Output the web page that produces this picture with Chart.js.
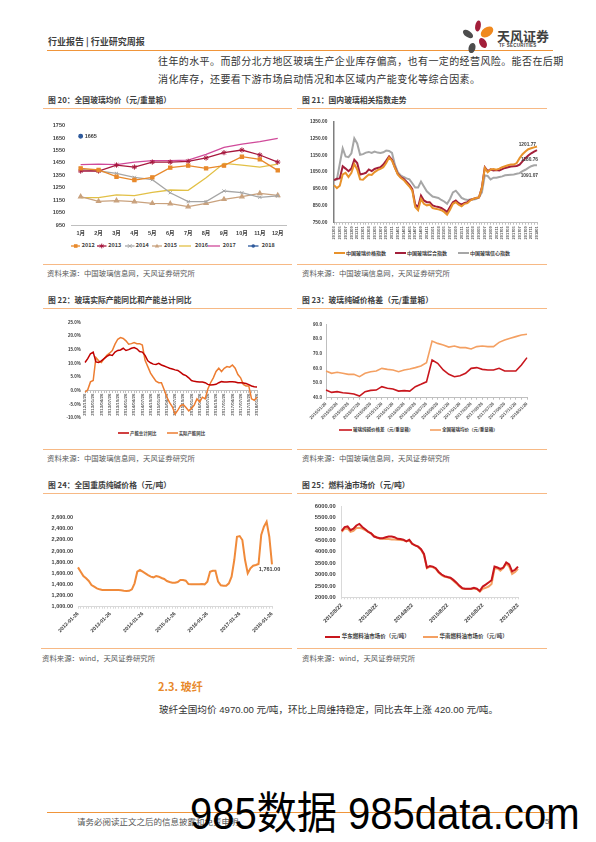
<!DOCTYPE html>
<html>
<head>
<meta charset="utf-8">
<title>行业研究周报</title>
<script src="https://cdn.jsdelivr.net/npm/chart.js@4.4.1/dist/chart.umd.min.js"></script>
<style>
html,body{margin:0;padding:0;background:#fff;}
#page{position:relative;width:596px;height:842px;overflow:hidden;font-family:"Noto Sans CJK SC",sans-serif;color:#333;}
.t{position:absolute;white-space:nowrap;line-height:1;}
.rule{position:absolute;height:1px;background:#F7B985;}
.ttl{font-size:7.8px;font-weight:bold;color:#404040;}
.src{font-size:7.4px;color:#595959;}
canvas{position:absolute;}
</style>
</head>
<body>
<div id="page">
  <div class="t" style="left:48px;top:37px;font-size:9px;font-weight:bold;color:#3f3f3f;">行业报告&nbsp;|&nbsp;行业研究周报</div>
  <div style="position:absolute;left:47px;top:49.5px;width:506px;height:1.5px;background:#F0953A;"></div>
  <svg style="position:absolute;left:460px;top:20px;" width="36" height="34">
    <ellipse cx="18" cy="6" rx="2.8" ry="5.5" fill="#A31F3A" transform="rotate(10 18 6)"/>
    <ellipse cx="27" cy="12" rx="4.5" ry="7" fill="#F0891E" transform="rotate(55 27 12)"/>
    <ellipse cx="8" cy="14" rx="3.2" ry="5.8" fill="#4d4d4d" transform="rotate(-55 8 14)"/>
    <ellipse cx="23" cy="23" rx="3.4" ry="5.4" fill="#A31F3A" transform="rotate(-30 23 23)"/>
    <ellipse cx="12" cy="28" rx="3.4" ry="5.2" fill="#4d4d4d" transform="rotate(15 12 28)"/>
  </svg>
  <div class="t" style="left:497px;top:28.8px;font-size:13px;font-weight:bold;color:#404040;">天风证券</div>
  <div class="t" style="left:499px;top:44.3px;font-size:4.5px;font-weight:bold;color:#404040;font-family:'Liberation Sans',sans-serif;letter-spacing:0.3px;">TF SECURITIES</div>

  <div class="t" style="left:158px;top:56.4px;font-size:10px;letter-spacing:0.4px;color:#333;">往年的水平。而部分北方地区玻璃生产企业库存偏高，也有一定的经营风险。能否在后期</div>
  <div class="t" style="left:158px;top:74.4px;font-size:10px;letter-spacing:0.4px;color:#333;">消化库存，还要看下游市场启动情况和本区域内产能变化等综合因素。</div>

  <div class="t ttl" style="left:48px;top:95.7px;">图 20：全国玻璃均价（元/重量箱）</div>
  <div class="t ttl" style="left:302px;top:95.7px;">图 21：国内玻璃相关指数走势</div>
  <div class="rule" style="left:43px;top:108px;width:249px;"></div>
  <div class="rule" style="left:297px;top:108px;width:250px;"></div>
  <div class="rule" style="left:43px;top:264px;width:249px;"></div>
  <div class="rule" style="left:297px;top:264px;width:250px;"></div>
  <div class="t src" style="left:47px;top:268.6px;">资料来源：中国玻璃信息网，天风证券研究所</div>
  <div class="t src" style="left:302px;top:268.6px;">资料来源：中国玻璃信息网，天风证券研究所</div>

  <div class="t ttl" style="left:48px;top:295.7px;">图 22：玻璃实际产能同比和产能总计同比</div>
  <div class="t ttl" style="left:302px;top:295.7px;">图 23：玻璃纯碱价格差（元/重量箱）</div>
  <div class="rule" style="left:43px;top:308px;width:249px;"></div>
  <div class="rule" style="left:297px;top:308px;width:250px;"></div>
  <div class="rule" style="left:43px;top:449px;width:249px;"></div>
  <div class="rule" style="left:297px;top:449px;width:250px;"></div>
  <div class="t src" style="left:47px;top:453.6px;">资料来源：中国玻璃信息网，天风证券研究所</div>
  <div class="t src" style="left:302px;top:453.6px;">资料来源：中国玻璃信息网，天风证券研究所</div>

  <div class="t ttl" style="left:48px;top:480.7px;">图 24：全国重质纯碱价格（元/吨）</div>
  <div class="t ttl" style="left:302px;top:480.7px;">图 25：燃料油市场价（元/吨）</div>
  <div class="rule" style="left:43px;top:493px;width:249px;"></div>
  <div class="rule" style="left:297px;top:493px;width:250px;"></div>
  <div class="rule" style="left:41px;top:648px;width:251px;"></div>
  <div class="rule" style="left:297px;top:648px;width:250px;"></div>
  <div class="t src" style="left:42px;top:653.9px;">资料来源：wind，天风证券研究所</div>
  <div class="t src" style="left:302px;top:653.9px;">资料来源：wind，天风证券研究所</div>

  <div class="t" style="left:158px;top:680.6px;font-size:11px;font-weight:bold;color:#E8892B;">2.3. 玻纤</div>
  <div class="t" style="left:159px;top:704.7px;font-size:9.6px;color:#333;font-family:'Liberation Sans','Noto Sans CJK SC',sans-serif;">玻纤全国均价 4970.00 元/吨，环比上周维持稳定，同比去年上涨 420.00 元/吨。</div>

  <div style="position:absolute;left:47px;top:812px;width:506px;height:1.2px;background:#F0953A;"></div>
  <div class="t" style="left:77px;top:817.3px;font-size:8.5px;color:#555;">请务必阅读正文之后的信息披露和免责申明</div>
  <div class="t" style="left:545px;top:817.5px;font-size:8px;color:#555;font-family:'Liberation Sans',sans-serif;">5</div>

  <canvas id="c20" width="249" height="125" style="left:43px;top:112px;"></canvas>
  <canvas id="c21" width="256" height="135" style="left:297px;top:112px;"></canvas>
  <canvas id="c22" width="249" height="113" style="left:43px;top:312px;"></canvas>
  <canvas id="c23" width="256" height="112" style="left:297px;top:312px;"></canvas>
  <canvas id="c24" width="249" height="140" style="left:43px;top:497px;"></canvas>
  <canvas id="c25" width="256" height="131" style="left:297px;top:497px;"></canvas>

  <div class="t" style="left:190px;top:791.8px;font-size:44px;color:#000;font-family:'Liberation Sans','Noto Sans CJK SC',sans-serif;transform:scaleX(0.91);transform-origin:left top;">985数据 985data.com</div>
</div>

<script>
// ---- data: 图20 全国玻璃均价
var months20 = ['1月','2月','3月','4月','5月','6月','7月','8月','9月','10月','11月','12月'];
var p2012 = [1406,1393,1339,1312,1334,1412,1428,1406,1428,1500,1479,1390];
var p2013 = [1385,1385,1433,1417,1457,1457,1463,1490,1533,1554,1514,1457];
var p2014 = [1398,1385,1366,1334,1315,1210,1138,1138,1224,1210,1173,1184];
var p2015 = [1178,1141,1146,1138,1125,1122,1098,1125,1157,1178,1205,1189];
var p2016 = [1170,1170,1192,1186,1213,1232,1229,1331,1447,1433,1417,1441];
var p2017 = [1436,1441,1436,1457,1468,1468,1473,1519,1575,1602,1621,1648];
var p2018 = [1665,null,null,null,null,null,null,null,null,null,null,null];
var yTicks20 = [950,1050,1150,1250,1350,1450,1550,1650,1750];

// ---- 图21 国内玻璃相关指数 (monthly 2012/03 - 2018/01)
var price21 = [973,955,969,1036,1046,1021,1046,1098,1066,1007,
  1005,1021,1036,1033,1050,1062,1069,1079,1104,1137,
  1118,1075,1036,1017,1004,984,965,940,843,824,
  891,862,853,857,837,833,829,824,814,798,
  827,862,872,857,847,862,866,882,891,897,
  900,955,1075,1050,1066,1069,1064,1071,1079,1085,
  1091,1095,1095,1104,1133,1156,1172,1186,1192,1197,1201.77];
var comp21 = [1002,1011,1013,1085,1071,1056,1071,1124,1104,1036,
  1040,1046,1066,1056,1069,1075,1079,1095,1118,1143,
  1124,1079,1040,1021,1011,994,975,949,858,843,
  911,882,872,872,853,847,843,837,827,814,
  843,872,882,866,857,868,872,886,891,897,
  900,960,1079,1056,1066,1060,1062,1060,1068,1075,
  1079,1083,1085,1087,1095,1114,1133,1149,1162,1172,1180.76];
var conf21 = [1002,1007,1100,1191,1143,1139,1162,1250,1220,1153,
  1157,1166,1170,1164,1172,1166,1164,1168,1178,1176,
  1164,1094,1050,1031,1021,1013,1007,984,959,959,
  994,965,936,920,905,901,897,885,876,862,
  891,930,940,920,897,889,885,887,887,891,
  901,930,1031,1027,1007,1017,1017,1021,1025,1031,
  1033,1035,1036,1040,1044,1056,1064,1075,1085,1091,1091.07];

// ---- 图22 产能同比 (%), monthly 2012/10 - 2018/01
var total22 = [10.3,11.7,13.5,14.1,10.5,10.3,10.9,11.7,12.5,13.1,
  12.9,14.1,14.7,14.9,15.5,14.7,15.0,15.5,15.8,15.3,
  14.3,14.1,12.9,10.9,10.2,9.7,9.6,10.0,9.4,9.0,
  8.6,8.2,7.9,7.6,7.4,6.7,5.9,5.5,4.7,3.7,
  3.4,3.3,3.2,3.2,2.9,2.3,2.1,2.2,2.3,2.9,
  3.3,3.2,3.2,3.3,3.3,3.2,2.9,2.9,2.8,2.6,
  2.2,1.7,1.4,1.3];
var actual22 = [-0.6,0.3,3.2,3.7,12.1,10.9,10.3,11.7,12.9,13.7,
  14.7,17.0,18.8,19.4,19.1,18.2,17.0,17.2,17.6,17.2,
  17.2,16.7,11.1,8.8,6.4,4.9,3.5,2.9,2.9,0.3,
  -2.4,-4.4,-5.9,-8.6,-7.1,-5.5,-5.1,-6.2,-7.4,-6.5,
  -5.3,-3.0,-4.1,-2.4,-3.0,0.6,2.9,4.7,7.0,8.2,
  7.0,8.2,8.8,8.6,9.4,8.2,5.9,4.7,2.3,1.7,
  1.7,-3.0,-3.5,-2.4];

// ---- 图23 玻璃纯碱价格差 (元/重量箱), monthly 2015/01 - 2018/01
var spread23 = [45.2,43.6,44.1,43.4,43.0,42.5,41.1,44.1,45.0,45.2,
  47.5,46.4,45.9,44.5,44.8,44.5,47.5,49.1,50.8,65.7,
  63.4,58.9,55.9,54.3,55.0,56.6,60.0,60.5,59.3,58.9,
  58.9,60.0,58.2,58.2,58.2,62.3,67.3];
var glass23 = [58.2,56.6,57.3,56.6,55.9,55.9,54.3,56.6,57.7,58.2,
  60.0,59.3,58.9,57.7,58.9,59.5,60.5,61.6,63.9,78.6,
  77.0,75.9,74.5,75.2,74.1,74.1,73.2,74.8,75.2,74.8,
  74.8,77.7,79.3,80.5,81.6,82.7,83.2];

// ---- 图24 重质纯碱 (元/吨), monthly 2012-01 - 2018-01
var soda24 = [1707,1629,1551,1510,1462,1390,1360,1330,1312,1300,
  1300,1300,1300,1300,1300,1298,1295,1285,1282,1285,
  1312,1420,1629,1659,1629,1600,1569,1540,1528,1551,
  1540,1516,1498,1462,1444,1432,1432,1444,1480,1480,
  1468,1408,1402,1402,1402,1402,1408,1402,1450,1629,
  1647,1647,1450,1384,1378,1378,1420,1540,1839,2258,
  2270,2199,1839,1600,1689,1737,1749,1767,2288,2438,
  2528,2258,1761];

// ---- 图25 燃料油 (元/吨), monthly 2012/8 - 2017/8
var east25 = [4927,5094,5122,4955,5024,5164,5233,5094,4997,4885,
  4815,4676,4634,4606,4606,4648,4676,4676,4648,4578,
  4564,4537,4467,4537,4355,4286,4230,4118,3909,3310,
  3380,3352,3282,3115,3003,2934,2892,2864,2767,2655,
  2516,2404,2376,2376,2376,2418,2376,2279,2474,2557,
  2655,2753,3352,3310,3254,3310,3533,3450,3143,3213,
  3352];
var south25 = [4885,5024,5024,4885,4927,5052,5066,5024,4955,4885,
  4815,4704,4634,4578,4578,4564,4564,4550,4550,4537,
  4523,4509,4467,4495,4355,4286,4230,4091,3868,3282,
  3352,3324,3254,3087,2976,2906,2878,2836,2725,2613,
  2488,2390,2362,2362,2362,2390,2362,2251,2376,2418,
  2474,2585,3254,3282,3171,3282,3491,3352,3031,3115,
  3254];

// category labels
function pad2(n){ return (n<10?'0':'')+n; }
function monthSeq(y, m, n, fmt){
  var out = [];
  for (var k=0;k<n;k++){
    var mm = m+k-1;
    out.push(fmt(y+Math.floor(mm/12), mm%12+1));
  }
  return out;
}
var dates21 = monthSeq(2012,3,price21.length,function(y,m){return y+pad2(m);});
var dates22 = monthSeq(2012,10,total22.length,function(y,m){return y+'/'+pad2(m)+'/26';});
var dates23 = monthSeq(2015,1,glass23.length,function(y,m){return y+'/'+pad2(m)+'/26';});
var dates24 = monthSeq(2012,1,soda24.length,function(y,m){return y+'-'+pad2(m)+'-26';});
var dates25 = monthSeq(2012,8,east25.length,function(y,m){return y+'/'+m+'/22';});

var FONT = '"Liberation Sans","Noto Sans CJK SC",sans-serif';
var TXT = '#404040';
Chart.defaults.font.family = FONT;

function f(size){ return {family:FONT, size:size, weight:'bold'}; }
function every(n){ return function(v,i){ return i%n===0 ? this.getLabelForValue(v) : ''; }; }
function fixW(w){ return function(s){ s.width = w; }; }
function fixH(h){ return function(s){ s.height = h; }; }

// value labels next to chosen points
function pointLabels(items){
  return {
    id:'pointLabels',
    afterDatasetsDraw: function(chart){
      var ctx = chart.ctx;
      items.forEach(function(it){
        var el = chart.getDatasetMeta(it.ds).data[it.i];
        var v = chart.data.datasets[it.ds].data[it.i];
        ctx.save();
        ctx.font = 'bold '+it.size+'px '+FONT;
        ctx.fillStyle = TXT;
        ctx.textAlign = it.align;
        ctx.textBaseline = 'middle';
        ctx.fillText(it.fmt(v), el.x+it.dx, el.y+it.dy);
        ctx.restore();
      });
    }
  };
}
function two(v){ return v.toFixed(2); }
function comma2(v){ return v.toLocaleString('en-US',{minimumFractionDigits:2,maximumFractionDigits:2}); }

function base(pad){
  return {
    responsive:false, animation:false,
    layout:{padding:pad},
    plugins:{legend:{display:false}, tooltip:{enabled:false}},
    elements:{line:{tension:0}, point:{radius:0}}
  };
}
function ln(data, color, w, extra){
  var d = {data:data, borderColor:color, backgroundColor:color, borderWidth:w, pointRadius:0, fill:false};
  for (var k in extra) d[k] = extra[k];
  return d;
}

// ---- chart 20
var o20 = base({top:13.7, right:5.3, bottom:0, left:0});
o20.scales = {
  x:{offset:true, grid:{display:false, drawTicks:false}, border:{color:'#BFBFBF'},
     ticks:{font:f(5.5), color:TXT, padding:5, maxRotation:0, autoSkip:false}, afterFit:fixH(12)},
  y:{min:950, max:1750, afterBuildTicks:function(s){ s.ticks = yTicks20.map(function(v){return {value:v};}); },
     grid:{display:false, drawTicks:false}, border:{display:false},
     ticks:{font:f(5.5), color:TXT, padding:6.7, callback:function(v){return String(v);}}, afterFit:fixW(28.7)}
};
new Chart(document.getElementById('c20'), {
  type:'line',
  data:{labels:months20, datasets:[
    ln(p2012,'#E8892B',1.3,{pointStyle:'rect', pointRadius:2.2}),
    ln(p2013,'#A6173D',1.3,{pointStyle:'star', pointRadius:2.6, pointBorderWidth:1}),
    ln(p2014,'#A6A6A6',1.3,{pointStyle:'crossRot', pointRadius:2.2, pointBorderWidth:1}),
    ln(p2015,'#C9A27E',1.3,{pointStyle:'triangle', pointRadius:2.3}),
    ln(p2016,'#E2C046',1.3),
    ln(p2017,'#D04A9A',1.3),
    ln(p2018,'#2E5A9C',1.3,{pointStyle:'circle', pointRadius:1.8})
  ]},
  options:o20,
  plugins:[pointLabels([{ds:6, i:0, dx:4, dy:0, align:'left', size:5.5, fmt:function(v){return String(v);}}])]
});

// ---- chart 21
var o21 = base({top:7.3, right:16, bottom:0, left:0});
o21.scales = {
  x:{grid:{display:true, drawOnChartArea:false, drawTicks:true, tickLength:2, color:'#BFBFBF'}, border:{color:'#BFBFBF'},
     ticks:{font:f(4), color:'#595959', padding:1.5, minRotation:90, maxRotation:90, autoSkip:false, callback:every(2)},
     afterFit:fixH(24.3)},
  y:{min:750, max:1350, grid:{display:false, drawTicks:false}, border:{color:'#7F7F7F', width:1.5},
     ticks:{stepSize:100, font:f(4.8), color:TXT, padding:6.7, callback:function(v){return v.toFixed(2);}},
     afterFit:fixW(37)}
};
new Chart(document.getElementById('c21'), {
  type:'line',
  data:{labels:dates21, datasets:[
    ln(price21,'#E8922B',2),
    ln(comp21,'#A31F3A',2),
    ln(conf21,'#A6A6A6',2)
  ]},
  options:o21,
  plugins:[pointLabels([
    {ds:0, i:price21.length-1, dx:-1, dy:-2, align:'right', size:4.8, fmt:two},
    {ds:1, i:comp21.length-1, dx:1, dy:10, align:'right', size:4.8, fmt:two},
    {ds:2, i:conf21.length-1, dx:1, dy:10, align:'right', size:4.8, fmt:two}
  ])]
});

// ---- chart 22
var o22 = base({top:10.3, right:35, bottom:3.3, left:0});
o22.scales = {
  x:{position:{y:0}, grid:{display:true, drawOnChartArea:false, drawTicks:true, tickLength:2, color:'#BFBFBF'}, border:{color:'#BFBFBF'},
     ticks:{font:f(4.4), color:'#595959', padding:1, minRotation:90, maxRotation:90, autoSkip:false, callback:every(3)}},
  y:{min:-10, max:25, grid:{display:false, drawTicks:false}, border:{display:false},
     ticks:{stepSize:5, font:f(4.5), color:TXT, padding:4.3, callback:function(v){return v.toFixed(1)+'%';}},
     afterFit:fixW(42)}
};
new Chart(document.getElementById('c22'), {
  type:'line',
  data:{labels:dates22, datasets:[
    ln(total22,'#C00000',1.5),
    ln(actual22,'#ED7D31',1.5)
  ]},
  options:o22
});

// ---- chart 23
var o23 = base({top:12.3, right:26, bottom:0, left:0});
o23.scales = {
  x:{grid:{display:true, drawOnChartArea:false, drawTicks:true, tickLength:2, color:'#BFBFBF'}, border:{color:'#BFBFBF'},
     ticks:{font:f(4.4), color:'#595959', padding:1.5, minRotation:45, maxRotation:45, autoSkip:false, callback:every(2)},
     afterFit:fixH(26.3)},
  y:{min:40, max:90, grid:{display:false, drawTicks:false}, border:{color:'#BFBFBF'},
     ticks:{stepSize:5, font:f(4.6), color:TXT, padding:4, callback:function(v){return v.toFixed(1);}},
     afterFit:fixW(29)}
};
new Chart(document.getElementById('c23'), {
  type:'line',
  data:{labels:dates23, datasets:[
    ln(spread23,'#C8161D',1.6),
    ln(glass23,'#F4A062',1.6)
  ]},
  options:o23
});

// ---- chart 24
var o24 = base({top:20.7, right:20, bottom:0, left:0});
o24.scales = {
  x:{grid:{display:true, drawOnChartArea:false, drawTicks:true, tickLength:2, color:'#D9D9D9'}, border:{color:'#D9D9D9'},
     ticks:{font:f(5.2), color:TXT, padding:2, minRotation:45, maxRotation:45, autoSkip:false, callback:every(12)},
     afterFit:fixH(30.3)},
  y:{min:1000, max:2600, grid:{display:false, drawTicks:false}, border:{display:false},
     ticks:{stepSize:200, font:f(5.5), color:TXT, padding:5, callback:comma2},
     afterFit:fixW(35)}
};
new Chart(document.getElementById('c24'), {
  type:'line',
  data:{labels:dates24, datasets:[ ln(soda24,'#F08A3A',2) ]},
  options:o24,
  plugins:[pointLabels([{ds:0, i:soda24.length-1, dx:-2.5, dy:5, align:'center', size:5.5, fmt:comma2}])]
});

// ---- chart 25
var o25 = base({top:4.7, right:35, bottom:0, left:0});
o25.scales = {
  x:{grid:{display:true, drawOnChartArea:false, drawTicks:true, tickLength:2, color:'#D9D9D9'}, border:{color:'#D9D9D9'},
     ticks:{font:f(5.5), color:TXT, padding:3, minRotation:45, maxRotation:45, autoSkip:false, callback:every(12)},
     afterFit:fixH(30.7)},
  y:{min:2000, max:6000, grid:{display:false, drawTicks:false}, border:{color:'#D9D9D9'},
     ticks:{stepSize:500, font:f(5.8), color:TXT, padding:6, callback:function(v){return v.toFixed(2);}},
     afterFit:fixW(44.7)}
};
new Chart(document.getElementById('c25'), {
  type:'line',
  data:{labels:dates25, datasets:[
    ln(east25,'#C8161D',2),
    ln(south25,'#F4A062',2)
  ]},
  options:o25
});

// ---- legends (html)
var page = document.getElementById('page');
function marker(kind, c, cx, cy){
  if (kind==='rect') return '<rect x="'+(cx-1.8)+'" y="'+(cy-1.8)+'" width="3.6" height="3.6" fill="'+c+'"/>';
  if (kind==='circle') return '<circle cx="'+cx+'" cy="'+cy+'" r="1.8" fill="'+c+'"/>';
  if (kind==='tri') return '<polygon points="'+cx+','+(cy-2.2)+' '+(cx+2.2)+','+(cy+1.6)+' '+(cx-2.2)+','+(cy+1.6)+'" fill="'+c+'"/>';
  if (kind==='x') return '<path d="M'+(cx-1.8)+' '+(cy-1.8)+'L'+(cx+1.8)+' '+(cy+1.8)+'M'+(cx+1.8)+' '+(cy-1.8)+'L'+(cx-1.8)+' '+(cy+1.8)+'" stroke="'+c+'" stroke-width="1"/>';
  if (kind==='star') return '<path d="M'+cx+' '+(cy-2.4)+'V'+(cy+2.4)+'M'+(cx-2.1)+' '+(cy-1.2)+'L'+(cx+2.1)+' '+(cy+1.2)+'M'+(cx+2.1)+' '+(cy-1.2)+'L'+(cx-2.1)+' '+(cy+1.2)+'" stroke="'+c+'" stroke-width="1"/>';
  return '';
}
function legendItem(it){
  var s = document.createElementNS('http://www.w3.org/2000/svg','svg');
  s.setAttribute('width', it.lw); s.setAttribute('height', 8);
  s.style.position = 'absolute'; s.style.left = it.lx+'px'; s.style.top = (it.cy-4)+'px';
  s.innerHTML = '<line x1="0" y1="4" x2="'+it.lw+'" y2="4" stroke="'+it.c+'" stroke-width="'+it.w+'"/>' + marker(it.m, it.c, it.lw/2, 4);
  page.appendChild(s);
  var d = document.createElement('div');
  d.className = 't';
  d.style.left = it.tx+'px';
  d.style.top = (it.cy - it.size*0.556)+'px';
  d.style.fontSize = it.size+'px';
  d.style.fontWeight = 'bold';
  d.style.color = TXT;
  d.textContent = it.text;
  page.appendChild(d);
}
var legends = [
  {lx:70.7, lw:9.5, tx:81.7, cy:245.7, c:'#E8892B', w:1.3, m:'rect', text:'2012', size:5.5},
  {lx:97.3, lw:9.5, tx:108.3, cy:245.7, c:'#A6173D', w:1.3, m:'star', text:'2013', size:5.5},
  {lx:125, lw:9.5, tx:135.7, cy:245.7, c:'#A6A6A6', w:1.3, m:'x', text:'2014', size:5.5},
  {lx:152.3, lw:10, tx:164, cy:245.7, c:'#C9A27E', w:1.3, m:'tri', text:'2015', size:5.5},
  {lx:179.3, lw:12, tx:195, cy:245.7, c:'#E2C046', w:1.3, m:'', text:'2016', size:5.5},
  {lx:208.3, lw:12, tx:222.7, cy:245.7, c:'#D04A9A', w:1.3, m:'', text:'2017', size:5.5},
  {lx:248.3, lw:10.5, tx:261.7, cy:245.7, c:'#2E5A9C', w:1.3, m:'circle', text:'2018', size:5.5},

  {lx:334, lw:11, tx:346, cy:252.7, c:'#E8922B', w:2, m:'', text:'中国玻璃价格指数', size:5},
  {lx:395, lw:11, tx:407, cy:252.7, c:'#A31F3A', w:2, m:'', text:'中国玻璃综合指数', size:5},
  {lx:458, lw:11, tx:470, cy:252.7, c:'#A6A6A6', w:2, m:'', text:'中国玻璃信心指数', size:5},

  {lx:118, lw:11, tx:130, cy:433, c:'#C00000', w:1.5, m:'', text:'产能总计同比', size:4.4},
  {lx:166.7, lw:11, tx:178.7, cy:433, c:'#ED7D31', w:1.5, m:'', text:'实际产能同比', size:4.4},

  {lx:339, lw:13, tx:353, cy:430, c:'#C8161D', w:1.6, m:'', text:'玻璃纯碱价格差（元/重量箱）', size:4.5},
  {lx:430, lw:11, tx:442, cy:430, c:'#F4A062', w:1.6, m:'', text:'全国玻璃均价（元/重量箱）', size:4.5},

  {lx:325, lw:15, tx:341.7, cy:636.7, c:'#C8161D', w:2, m:'', text:'华东燃料油市场价（元/吨）', size:5.5},
  {lx:423, lw:15, tx:439.5, cy:636.7, c:'#F4A062', w:2, m:'', text:'华南燃料油市场价（元/吨）', size:5.5}
];
legends.forEach(legendItem);
</script>
</body>
</html>
